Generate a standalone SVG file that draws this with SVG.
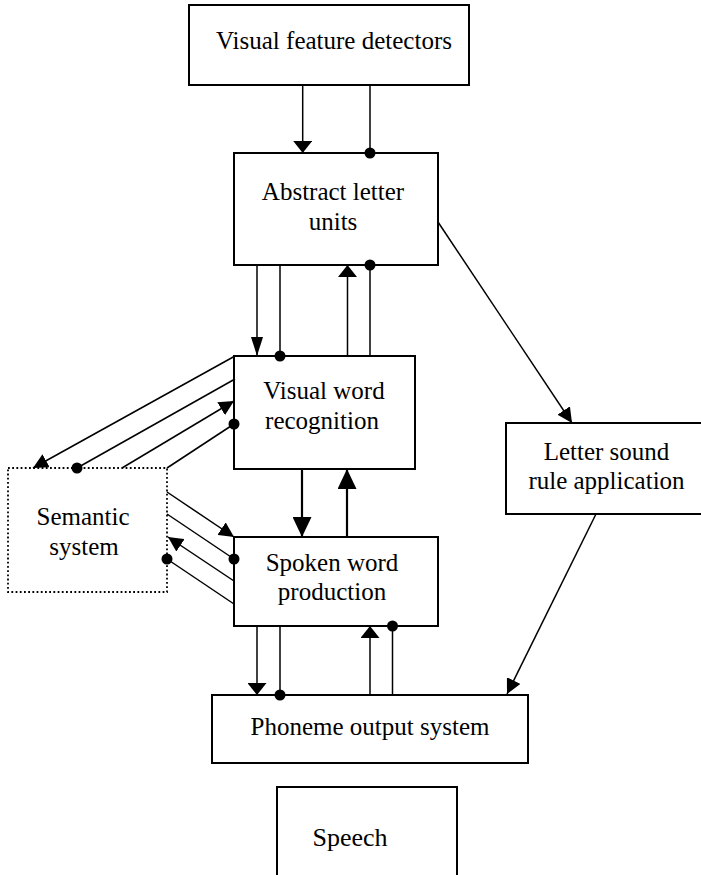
<svg xmlns="http://www.w3.org/2000/svg" width="701" height="875" viewBox="0 0 701 875">
<style>
.box{fill:#fff;stroke:#000;stroke-width:2}
.dotted{fill:#fff;stroke:#000;stroke-width:1.8;stroke-dasharray:1.8 2.4}
.t{font-family:"Liberation Serif","Times New Roman",serif;font-size:25px;fill:#000;text-anchor:middle}
.c{stroke:#000;stroke-width:1.5;fill:none}
.thick{stroke:#000;stroke-width:2.2;fill:none}
.dot{fill:#000}
</style>
<defs>
<marker id="ah" markerUnits="userSpaceOnUse" viewBox="0 0 15 15" refX="15" refY="7.5" markerWidth="15" markerHeight="15" orient="auto"><path d="M0,0 L15,7.5 L0,15 z" fill="#000"/></marker>
<marker id="ahFlat" markerUnits="userSpaceOnUse" viewBox="0 0 12 19" refX="12" refY="9.5" markerWidth="12" markerHeight="19" orient="auto"><path d="M0,0 L12,9.5 L0,19 z" fill="#000"/></marker>
<marker id="ahLong" markerUnits="userSpaceOnUse" viewBox="0 0 19 12" refX="19" refY="6" markerWidth="19" markerHeight="12" orient="auto"><path d="M0,0 L19,6 L0,12 z" fill="#000"/></marker>
<marker id="ahBig" markerUnits="userSpaceOnUse" viewBox="0 0 20 19" refX="20" refY="9.5" markerWidth="20" markerHeight="19" orient="auto"><path d="M0,0 L20,9.5 L0,19 z" fill="#000"/></marker>
</defs>

<g id="vfd">
<rect class="box" x="189" y="5" width="280" height="80"/>
<text class="t" x="334" y="49">Visual feature detectors</text>
</g>
<g id="alu">
<rect class="box" x="234" y="153" width="204" height="112"/>
<text class="t" x="333" y="200">Abstract letter</text>
<text class="t" x="333" y="230">units</text>
</g>
<g id="vwr">
<rect class="box" x="234" y="356" width="181" height="113"/>
<text class="t" x="324" y="399">Visual word</text>
<text class="t" x="322" y="429">recognition</text>
</g>
<g id="sem">
<rect class="dotted" x="8" y="468" width="159" height="124"/>
<text class="t" x="83" y="525">Semantic</text>
<text class="t" x="84" y="555">system</text>
</g>
<g id="swp">
<rect class="box" x="234" y="537" width="204" height="89"/>
<text class="t" x="332" y="571">Spoken word</text>
<text class="t" x="332" y="600">production</text>
</g>
<g id="lsr">
<rect class="box" x="506" y="423" width="197" height="91"/>
<text class="t" x="606.5" y="460">Letter sound</text>
<text class="t" x="606.5" y="489">rule application</text>
</g>
<g id="pos">
<rect class="box" x="212" y="695" width="316" height="68"/>
<text class="t" x="370" y="735">Phoneme output system</text>
</g>
<g id="speech">
<rect class="box" x="277" y="787" width="180" height="100"/>
<text class="t" x="350" y="846" style="font-size:26px">Speech</text>
</g>

<g id="connectors">
<line class="c" x1="302.7" y1="85" x2="302.7" y2="153" marker-end="url(#ahFlat)"/>
<line class="c" x1="370" y1="85" x2="370" y2="153"/>
<circle class="dot" cx="370" cy="153" r="5.5"/>

<line class="c" x1="257" y1="265" x2="257" y2="356" marker-end="url(#ahLong)"/>
<line class="c" x1="280" y1="265" x2="280" y2="356"/>
<circle class="dot" cx="280" cy="356" r="5.5"/>
<line class="c" x1="347.5" y1="356" x2="347.5" y2="265" marker-end="url(#ahFlat)"/>
<line class="c" x1="370" y1="356" x2="370" y2="265"/>
<circle class="dot" cx="370" cy="265" r="5.5"/>

<line class="thick" x1="302" y1="469" x2="302" y2="537" marker-end="url(#ahBig)"/>
<line class="thick" x1="347" y1="537" x2="347" y2="469" marker-end="url(#ahBig)"/>

<line class="c" x1="257" y1="626" x2="257" y2="695" marker-end="url(#ahFlat)"/>
<line class="c" x1="280" y1="626" x2="280" y2="695"/>
<circle class="dot" cx="280" cy="695" r="5.5"/>
<line class="c" x1="370" y1="695" x2="370" y2="626" marker-end="url(#ahFlat)"/>
<line class="c" x1="392.5" y1="695" x2="392.5" y2="626"/>
<circle class="dot" cx="392.5" cy="626" r="5.5"/>

<line class="c" x1="438" y1="222" x2="572" y2="423" marker-end="url(#ah)"/>
<line class="c" x1="596" y1="514" x2="507" y2="694" marker-end="url(#ah)"/>

<line class="c" x1="235" y1="356" x2="33" y2="468" marker-end="url(#ah)"/>
<line class="c" x1="235" y1="379" x2="77" y2="468"/>
<circle class="dot" cx="77" cy="468" r="5.5"/>
<line class="c" x1="122" y1="468" x2="234" y2="401" marker-end="url(#ah)"/>
<line class="c" x1="167" y1="468" x2="234" y2="424"/>
<circle class="dot" cx="234" cy="424" r="5.5"/>

<line class="c" x1="167" y1="492" x2="234" y2="537" marker-end="url(#ah)"/>
<line class="c" x1="167" y1="514" x2="234" y2="559"/>
<circle class="dot" cx="234" cy="559" r="5.5"/>
<line class="c" x1="234" y1="581" x2="168" y2="537" marker-end="url(#ah)"/>
<line class="c" x1="234" y1="604" x2="167" y2="559"/>
<circle class="dot" cx="167" cy="559" r="5.5"/>
</g>
</svg>
